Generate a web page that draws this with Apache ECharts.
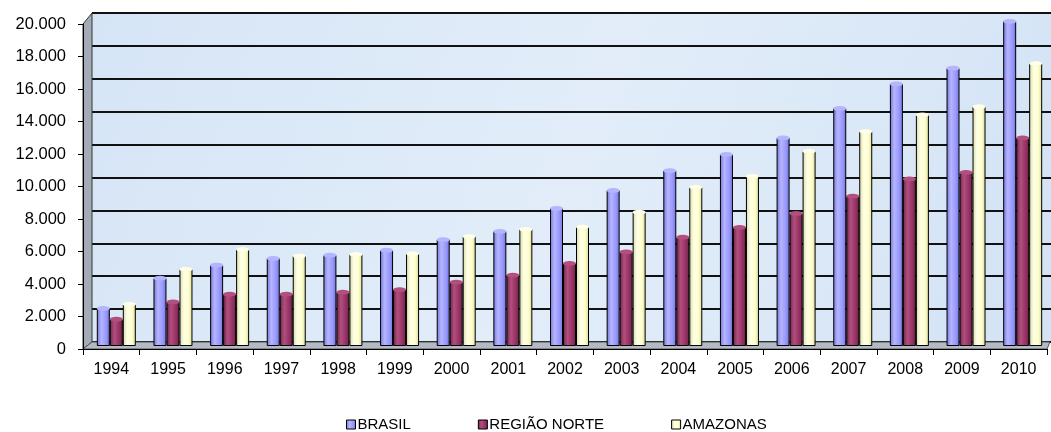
<!DOCTYPE html>
<html>
<head>
<meta charset="utf-8">
<script src="https://cdn.jsdelivr.net/npm/echarts@6/dist/echarts.min.js"></script>
<style>
  html, body { margin: 0; padding: 0; background: #fff; }
  #main { width: 1051px; height: 432px; }
</style>
</head>
<body>
<div id="main"></div>
<script>
// dados
const years = ['1994', '1995', '1996', '1997', '1998', '1999', '2000', '2001', '2002',
  '2003', '2004', '2005', '2006', '2007', '2008', '2009', '2010'];
const brasil = [2300, 4150, 4950, 5350, 5550, 5850, 6500, 7000, 8400,
  9500, 10700, 11700, 12700, 14500, 16000, 16950, 19800];
const regiaoNorte = [1650, 2700, 3170, 3170, 3300, 3450, 3900, 4330, 5050,
  5750, 6650, 7250, 8100, 9150, 10200, 10600, 12700];
const amazonas = [2560, 4700, 5900, 5500, 5600, 5650, 6700, 7130, 7270,
  8170, 9700, 10370, 11900, 13100, 14100, 14600, 17250];
const yTickLabels = ['0', '2.000', '4.000', '6.000', '8.000', '10.000',
  '12.000', '14.000', '16.000', '18.000', '20.000'];

const names = ['BRASIL', 'REGIÃO NORTE', 'AMAZONAS'];
const colors = ['#9999ff', '#993366', '#ffffcc'];
const edge = ['#7474d6', '#6e2448', '#d9d9a2'];
const light = ['#b5b5ff', '#b24f7f', '#ffffe8'];

// moldura 3D (paredes)
const W = 1051;
const front = { left: 83, top: 24, bottom: 349, right: 1047 };
const back = { left: 92, top: 13, bottom: 342, right: 1050 };
const barBox = { left: 88, top: 18, right: -1, bottom: 86 };

const chart = echarts.init(document.getElementById('main'));

function cyl(i) {
  return new echarts.graphic.LinearGradient(0, 0, 1, 0, [
    { offset: 0, color: edge[i] },
    { offset: 0.35, color: light[i] },
    { offset: 0.7, color: colors[i] },
    { offset: 1, color: edge[i] }
  ]);
}

const data = [brasil, regiaoNorte, amazonas];
const series = [];
data.forEach((d, i) => {
  series.push({
    name: names[i],
    type: 'bar',
    xAxisIndex: 2,
    yAxisIndex: 2,
    data: d,
    barWidth: 13,
    barGap: '0%',
    z: 3,
    itemStyle: { color: cyl(i), borderColor: '#000', borderWidth: 1 }
  });
});
// tampas dos cilindros, num grid igual ao das barras
data.forEach((d, i) => {
  series.push({
    name: names[i] + ' topo',
    type: 'pictorialBar',
    xAxisIndex: 3,
    yAxisIndex: 3,
    data: d,
    symbol: 'circle',
    symbolSize: [13, 5],
    symbolPosition: 'end',
    symbolOffset: [0, '-50%'],
    barWidth: 13,
    barGap: '0%',
    z: 4,
    itemStyle: { color: light[i], borderColor: '#000', borderWidth: 1 }
  });
});

const option = {
  animation: false,
  textStyle: { fontFamily: 'Liberation Sans, Arial, sans-serif' },
  legend: {
    data: names,
    left: 341,
    top: 412,
    itemWidth: 9,
    itemHeight: 9,
    itemGap: 67,
    icon: 'rect',
    itemStyle: { borderColor: '#000', borderWidth: 1 },
    textStyle: { fontSize: 15, color: '#000', padding: [0, 0, 0, -3] }
  },
  graphic: [
    { // parede esquerda
      type: 'polygon', z: 1,
      shape: { points: [[front.left, front.top], [back.left, back.top], [back.left, back.bottom], [front.left, front.bottom]] },
      style: { fill: '#a3acb6', stroke: '#333', lineWidth: 1 }
    },
    { // piso
      type: 'polygon', z: 1,
      shape: { points: [[front.left, front.bottom], [back.left, back.bottom], [back.right, back.bottom], [front.right, front.bottom]] },
      style: { fill: '#b2bac3', stroke: '#555', lineWidth: 1 }
    }
  ],
  grid: [
    { // parede do fundo
      left: back.left, top: back.top, right: W - back.right - 1, bottom: 432 - back.bottom,
      show: true, borderWidth: 0,
      backgroundColor: new echarts.graphic.LinearGradient(0, 0, 1, 1, [
        { offset: 0, color: '#d6e5f6' },
        { offset: 0.5, color: '#e2edf9' },
        { offset: 1, color: '#d3e3f5' }
      ])
    },
    { left: front.left, top: front.top, right: W - front.right, bottom: 432 - front.bottom },
    barBox,
    Object.assign({}, barBox)
  ],
  xAxis: [
    { gridIndex: 0, type: 'category', data: years, show: false },
    {
      gridIndex: 1, type: 'category', data: years,
      axisLine: { lineStyle: { color: '#000', width: 1 } },
      axisTick: { show: true, length: 6, lineStyle: { color: '#000' } },
      axisLabel: { color: '#000', fontSize: 16, margin: 13 },
      z: 5
    },
    { gridIndex: 2, type: 'category', data: years, show: false },
    { gridIndex: 3, type: 'category', data: years, show: false }
  ],
  yAxis: [
    {
      gridIndex: 0, type: 'value', min: 0, max: 20000, interval: 2000,
      axisLine: { show: false }, axisTick: { show: false }, axisLabel: { show: false },
      splitLine: { show: true, lineStyle: { color: '#111', width: 2 } }
    },
    {
      gridIndex: 1, type: 'value', min: 0, max: 20000, interval: 2000,
      axisLine: { show: true, lineStyle: { color: '#000', width: 1 } },
      axisTick: { show: true, length: 5, lineStyle: { color: '#000' } },
      axisLabel: {
        color: '#000', fontSize: 16.5, margin: 17,
        formatter: v => yTickLabels[Math.round(v / 2000)]
      },
      splitLine: { show: false },
      z: 5
    },
    { gridIndex: 2, type: 'value', min: 0, max: 20000, show: false, splitLine: { show: false } },
    { gridIndex: 3, type: 'value', min: 0, max: 20000, show: false, splitLine: { show: false } }
  ],
  series: series
};

chart.setOption(option);
</script>
</body>
</html>
